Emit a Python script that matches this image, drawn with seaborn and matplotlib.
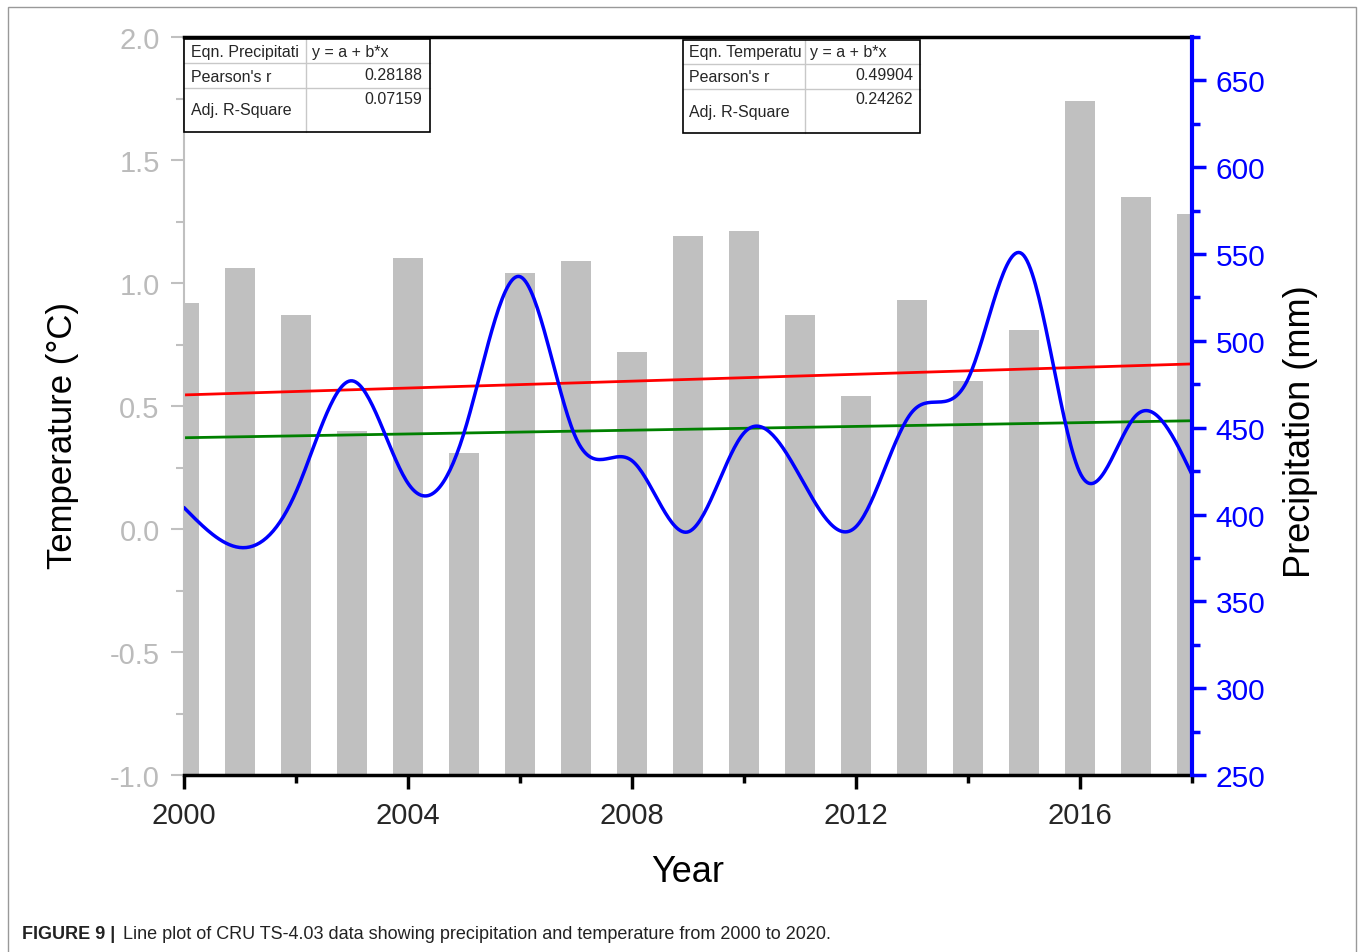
import numpy as np
import pandas as pd
import matplotlib
matplotlib.use('Agg')
import matplotlib.pyplot as plt
from matplotlib.patches import Rectangle
from matplotlib.lines import Line2D
from matplotlib.ticker import MultipleLocator, FormatStrFormatter
import seaborn as sns

# data
years = list(range(2000, 2019))
temperature = [0.92, 1.06, 0.87, 0.40, 1.10, 0.31, 1.04, 1.09, 0.72, 1.19,
               1.21, 0.87, 0.54, 0.93, 0.60, 0.81, 1.74, 1.35, 1.28]
precipitation = [404, 381, 413, 477, 418, 447, 537, 444, 431, 390,
                 447, 422, 393, 459, 478, 549, 424, 457, 423]
trend_years = [2000, 2018]
trend_red = [0.545, 0.671]
trend_green = [0.371, 0.440]

precip_stats_labels = ["Eqn. Precipitati", "Pearson's r", "Adj. R-Square"]
precip_stats_values = ["y = a + b*x", "0.28188", "0.07159"]
temp_stats_labels = ["Eqn. Temperatu", "Pearson's r", "Adj. R-Square"]
temp_stats_values = ["y = a + b*x", "0.49904", "0.24262"]

caption_bold = "FIGURE 9 |"
caption_text = "Line plot of CRU TS-4.03 data showing precipitation and temperature from 2000 to 2020."

W, H = 1358, 953


def fx(x):
    return x / W


def fy(y):
    return 1 - y / H


def natural_spline(x, y, xs):
    # smooth connector through the yearly points (like Origin's spline line)
    x = np.asarray(x, float)
    y = np.asarray(y, float)
    n = len(x)
    h = np.diff(x)
    A = np.zeros((n, n))
    r = np.zeros(n)
    A[0, 0] = A[-1, -1] = 1
    for i in range(1, n - 1):
        A[i, i - 1] = h[i - 1]
        A[i, i] = 2 * (h[i - 1] + h[i])
        A[i, i + 1] = h[i]
        r[i] = 3 * ((y[i + 1] - y[i]) / h[i] - (y[i] - y[i - 1]) / h[i - 1])
    c = np.linalg.solve(A, r)
    b = (y[1:] - y[:-1]) / h - h * (2 * c[:-1] + c[1:]) / 3
    d = (c[1:] - c[:-1]) / (3 * h)
    idx = np.clip(np.searchsorted(x, xs) - 1, 0, n - 2)
    t = xs - x[idx]
    return y[idx] + b[idx] * t + c[idx] * t ** 2 + d[idx] * t ** 3


sns.set_theme(style='ticks')
plt.rcParams['font.family'] = ['Liberation Sans', 'DejaVu Sans']

fig = plt.figure(figsize=(W / 100, H / 100), dpi=100)
ax = fig.add_axes([fx(184), fy(776), 1008 / W, 738 / H])

# temperature bars, drawn up from the bottom of the axis (-1.0)
df = pd.DataFrame({'year': years, 'temperature': temperature})
sns.barplot(data=df, x='year', y='temperature', native_scale=True, width=0.53,
            color='#c0c0c0', saturation=1, errorbar=None, edgecolor='none', ax=ax)
base = -1.0
for p in ax.patches:
    h = p.get_height()
    p.set_y(base)
    p.set_height(h - base)

sns.lineplot(x=trend_years, y=trend_red, color='#ff0000', linewidth=2.0, ax=ax)
sns.lineplot(x=trend_years, y=trend_green, color='#008000', linewidth=2.0, ax=ax)

ax.set_xlim(2000, 2018)
ax.set_ylim(-1.0, 2.0)

# precipitation on the right axis
ax2 = ax.twinx()
xs = np.linspace(2000, 2018, 600)
sns.lineplot(x=xs, y=natural_spline(years, precipitation, xs), color='#0000ff',
             linewidth=2.5, ax=ax2)
ax2.set_ylim(250, 675)
ax2.set_xlim(2000, 2018)

# spines
ax.spines['left'].set_color('#c0c0c0')
ax.spines['left'].set_linewidth(1.5)
for s in ['top', 'bottom']:
    ax.spines[s].set_color('black')
    ax.spines[s].set_linewidth(2.5)
ax.spines['right'].set_visible(False)
for s in ['top', 'bottom', 'left']:
    ax2.spines[s].set_visible(False)
ax2.spines['right'].set_color('#0000ff')
ax2.spines['right'].set_linewidth(3)

# ticks
ax.xaxis.set_major_locator(MultipleLocator(4))
ax.xaxis.set_minor_locator(MultipleLocator(2))
ax.xaxis.set_major_formatter(FormatStrFormatter('%d'))
ax.yaxis.set_major_locator(MultipleLocator(0.5))
ax.yaxis.set_minor_locator(MultipleLocator(0.25))
ax.yaxis.set_major_formatter(FormatStrFormatter('%.1f'))
ax.tick_params(axis='x', which='major', direction='out', length=10, width=2.5,
               color='black', labelsize=21, pad=9, top=False)
ax.tick_params(axis='x', which='minor', direction='out', length=6, width=2.5,
               color='black', top=False)
ax.tick_params(axis='y', which='major', direction='out', length=9.5, width=1.5,
               color='#c0c0c0', labelcolor='#bbbbbb', labelsize=21, pad=8, right=False)
ax.tick_params(axis='y', which='minor', direction='out', length=5.5, width=1.5,
               color='#c0c0c0', right=False)

ax2.yaxis.set_major_locator(MultipleLocator(50))
ax2.yaxis.set_minor_locator(MultipleLocator(25))
ax2.tick_params(axis='y', which='major', direction='out', length=10, width=2.5,
                color='#0000ff', labelcolor='#0000ff', labelsize=21.5, pad=7)
ax2.tick_params(axis='y', which='minor', direction='out', length=6, width=2.5,
                color='#0000ff')

# axis labels
ax.set_xlabel('Year', fontsize=26, color='black')
ax.xaxis.label.set_verticalalignment('center')
ax.xaxis.set_label_coords(0.5, -0.131)
ax.set_ylabel('Temperature (°C)', fontsize=25, color='black')
ax.yaxis.label.set_verticalalignment('center')
ax.yaxis.set_label_coords(-0.121, 0.461)
ax2.set_ylabel('Precipitation (mm)', fontsize=26, color='black')
ax2.yaxis.label.set_verticalalignment('center')
ax2.yaxis.set_label_coords(1.108, 0.466)


def stats_box(x0, y0, x1, y1, xdiv, hlines, labels, values, label_x, label_y,
              val_left_x, val_right_x, val_y):
    fig.add_artist(Rectangle((fx(x0), fy(y1)), (x1 - x0) / W, (y1 - y0) / H,
                             facecolor='white', edgecolor='none', zorder=3))
    for yy in hlines:
        fig.add_artist(Line2D([fx(x0), fx(x1)], [fy(yy), fy(yy)], color='#c8c8c8',
                              lw=1, zorder=4))
    fig.add_artist(Line2D([fx(xdiv), fx(xdiv)], [fy(y0), fy(y1)], color='#c8c8c8',
                          lw=1, zorder=4))
    fig.add_artist(Rectangle((fx(x0), fy(y1)), (x1 - x0) / W, (y1 - y0) / H,
                             facecolor='none', edgecolor='black', lw=1.2, zorder=5))
    for lab, ly in zip(labels, label_y):
        fig.text(fx(label_x), fy(ly), lab, fontsize=11.5, ha='left', va='center', zorder=6)
    fig.text(fx(val_left_x), fy(val_y[0]), values[0], fontsize=11.5, ha='left',
             va='center', zorder=6)
    for v, vy in zip(values[1:], val_y[1:]):
        fig.text(fx(val_right_x), fy(vy), v, fontsize=11.5, ha='right', va='center', zorder=6)


stats_box(184, 40, 430, 133, 306, [64, 89], precip_stats_labels, precip_stats_values,
          191, [52, 77, 111], 312, 422, [52, 75, 99])
stats_box(683, 41, 920, 134, 805, [65, 90], temp_stats_labels, temp_stats_values,
          689, [53, 78, 112], 810, 913, [52, 76, 100])

# caption and page frame
fig.text(fx(22), fy(935), caption_bold, fontsize=13, fontweight='bold',
         ha='left', va='center', color='#222222')
fig.text(fx(123), fy(935), caption_text, fontsize=13, ha='left', va='center',
         color='#222222')
fig.add_artist(Rectangle((fx(8), fy(965)), 1348 / W, 957 / H, facecolor='none',
                         edgecolor='#999999', lw=1))

fig.savefig('out.png', dpi=100)
